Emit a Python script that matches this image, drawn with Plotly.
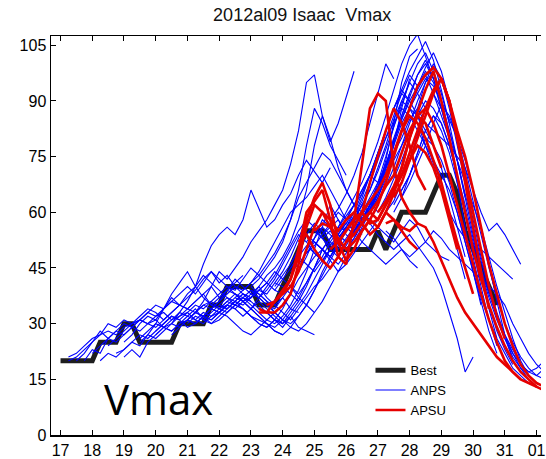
import plotly.graph_objects as go

# ---------------- data ----------------
STEP_DAYS = 0.25  # 6-hourly values

BEST_START = 17.0
BEST_VMAX = [20, 20, 20, 20, 20, 25, 25, 25, 30, 30, 25, 25, 25, 25, 25, 30, 30, 30, 30, 35,
             35, 40, 40, 40, 40, 35, 35, 35, 40, 45, 50, 55, 55, 55, 50, 50, 50, 50, 50, 50,
             55, 50, 55, 60, 60, 60, 60, 65, 70, 70, 65, 55, 50, 45, 40, 35]

ANPS_INIT = [17.25, 17.25, 17.5, 17.75, 18.0, 18.25, 18.5, 18.75, 19.0, 19.0,
             19.5, 19.5, 20.0, 20.0, 20.5, 20.5, 21.0, 21.0, 21.0, 21.25,
             21.5, 22.0, 22.0, 22.0, 22.5, 22.5, 22.5, 23.0, 23.0, 23.0,
             23.25, 23.25, 23.25, 23.75, 23.75, 23.75, 24.25, 24.25, 24.25, 24.75,
             24.75, 24.75, 25.0, 25.25, 25.25, 25.75, 25.75, 25.75, 26.25, 26.25,
             26.25, 26.5, 26.75, 27.25, 27.25, 27.25, 27.5, 27.5, 27.75, 27.75]

ANPS_VMAX = [
    [21, 22, 24, 26, 27, 28, 27, 29, 30, 31, 30, 32, 33, 31, 32, 34, 33, 35, 36, 34, 35],
    [20, 21, 23, 25, 28, 26, 25, 27, 29, 28, 30, 31, 29, 30, 32, 33, 31, 30, 32, 33, 35],
    [20, 22, 25, 27, 30, 29, 31, 30, 32, 34, 33, 31, 33, 35, 34, 36, 38, 35, 37, 39, 38],
    [20, 23, 22, 26, 28, 27, 29, 31, 30, 29, 31, 33, 35, 34, 36, 38, 40, 37, 39, 41, 43],
    [22, 24, 26, 28, 30, 29, 31, 33, 32, 34, 36, 35, 37, 39, 42, 44, 41, 43, 40, 38, 36],
    [20, 22, 21, 23, 25, 24, 27, 26, 28, 30, 29, 31, 30, 32, 31, 33, 35, 34, 32, 34, 36],
    [24, 26, 28, 30, 31, 33, 35, 34, 36, 38, 40, 38, 41, 44, 42, 40, 38, 36, 37, 39, 41],
    [22, 23, 25, 27, 26, 28, 30, 32, 31, 29, 30, 32, 31, 33, 32, 30, 28, 27, 29, 31, 33],
    [21, 23, 21, 25, 27, 29, 28, 30, 31, 33, 32, 30, 31, 33, 35, 34, 32, 30, 29, 31, 30],
    [25, 27, 30, 32, 31, 34, 37, 35, 38, 40, 43, 41, 39, 37, 35, 34, 32, 31, 30, 28, 27],
    [26, 28, 30, 29, 31, 33, 32, 34, 31, 30, 32, 34, 36, 35, 37, 39, 38, 41, 40, 38, 36],
    [25, 27, 30, 34, 38, 41, 44, 40, 37, 35, 34, 36, 35, 37, 39, 38, 36, 35, 37, 34, 33],
    [28, 30, 32, 31, 33, 35, 34, 36, 38, 40, 39, 42, 45, 43, 41, 39, 38, 40, 37, 35, 33],
    [27, 29, 28, 30, 32, 31, 33, 32, 34, 33, 35, 37, 36, 34, 33, 31, 30, 32, 29, 28, 27],
    [30, 33, 36, 40, 46, 51, 54, 56, 54, 58, 66, 61, 56, 58, 62, 65, 70, 74, 71, 68, 72],
    [27, 29, 31, 30, 32, 34, 33, 35, 34, 36, 38, 40, 37, 35, 33, 31, 34, 37, 40, 42, 45],
    [30, 32, 31, 33, 35, 34, 36, 38, 37, 39, 41, 44, 42, 40, 38, 41, 45, 48, 52, 55, 58],
    [31, 33, 35, 34, 36, 39, 42, 40, 38, 37, 35, 33, 31, 29, 28, 30, 33, 36, 40, 44, 48],
    [31, 33, 32, 34, 36, 38, 40, 39, 41, 43, 46, 49, 53, 58, 66, 78, 88, 84, 78, 74, 70],
    [33, 36, 40, 44, 42, 45, 48, 52, 55, 58, 62, 66, 73, 82, 95, 97, 86, 79, 84, 91, 98],
    [32, 34, 33, 35, 37, 36, 34, 32, 30, 28, 27, 29, 32, 35, 39, 43, 47, 51, 55, 58, 54],
    [35, 37, 36, 34, 32, 30, 29, 31, 34, 38, 42, 45, 48, 50, 47, 44, 46, 49, 52, 55, 58],
    [34, 36, 38, 37, 35, 33, 31, 30, 32, 35, 39, 44, 50, 56, 62, 58, 54, 52, 55, 58, 62],
    [35, 34, 36, 38, 37, 40, 43, 45, 48, 52, 58, 66, 78, 86, 80, 72, 66, 62, 58, 61, 63],
    [38, 36, 34, 32, 30, 29, 31, 34, 37, 41, 45, 50, 48, 52, 56, 54, 58, 62, 66, 72, 78],
    [37, 39, 41, 44, 48, 52, 56, 60, 62, 64, 67, 70, 66, 62, 58, 55, 57, 60, 65, 72, 80],
    [38, 36, 34, 37, 40, 43, 47, 51, 55, 58, 62, 60, 58, 61, 65, 70, 76, 84, 92, 100, 96],
    [40, 38, 36, 33, 31, 30, 32, 35, 39, 44, 48, 52, 50, 53, 57, 60, 64, 70, 78, 88, 96],
    [39, 37, 35, 34, 37, 40, 44, 48, 53, 58, 56, 54, 52, 55, 58, 62, 66, 72, 80, 86, 92],
    [40, 42, 45, 48, 52, 58, 64, 68, 72, 76, 74, 70, 66, 62, 65, 70, 76, 82, 88, 93, 90],
    [36, 34, 32, 30, 33, 36, 40, 45, 50, 48, 46, 49, 52, 56, 60, 66, 74, 84, 95, 102, 104],
    [37, 39, 42, 46, 50, 54, 52, 49, 47, 50, 53, 56, 59, 63, 68, 74, 80, 86, 92, 97, 94],
    [35, 33, 31, 29, 32, 35, 38, 42, 46, 50, 48, 51, 55, 52, 50, 48, 46, 48, 50, 47, 45],
    [40, 43, 46, 50, 54, 52, 50, 53, 56, 60, 64, 68, 73, 79, 86, 93, 100, 105, 108, 102, 96],
    [39, 42, 45, 48, 46, 44, 47, 50, 54, 58, 62, 60, 63, 67, 72, 78, 84, 88, 86, 82, 78],
    [41, 44, 48, 53, 58, 56, 53, 51, 54, 57, 55, 58, 62, 68, 75, 83, 90, 95, 92, 88, 84],
    [45, 48, 51, 49, 47, 50, 53, 56, 54, 57, 61, 66, 72, 79, 86, 92, 97, 100, 96, 88, 80],
    [46, 50, 54, 57, 55, 52, 50, 53, 56, 60, 58, 56, 54, 52, 55, 58, 56, 52, 50, 48, 47],
    [44, 46, 49, 52, 50, 48, 51, 55, 59, 64, 70, 76, 82, 88, 93, 98, 102, 106, 101, 93, 84],
    [50, 53, 56, 54, 52, 55, 58, 62, 60, 63, 67, 72, 78, 84, 90, 95, 98, 92, 84, 74, 64],
    [52, 55, 53, 50, 52, 56, 60, 65, 70, 76, 82, 88, 92, 90, 86, 80, 73, 66, 58, 50, 42],
    [49, 51, 54, 57, 60, 58, 62, 66, 70, 68, 72, 76, 80, 85, 88, 84, 78, 72, 64, 56, 48],
    [52, 50, 53, 56, 55, 58, 60, 57, 54, 52, 50, 52, 54, 51, 48, 45, 40, 33, 26, 17, 21],
    [53, 55, 52, 50, 53, 57, 62, 67, 73, 79, 85, 90, 94, 98, 95, 88, 80, 70, 60, 48, 38],
    [54, 56, 58, 55, 58, 62, 66, 71, 77, 83, 89, 95, 100, 103, 98, 90, 80, 68, 55, 44, 35],
    [55, 57, 60, 58, 62, 66, 71, 76, 82, 88, 94, 99, 103, 98, 90, 80, 68, 56, 44, 34, 26],
    [54, 52, 55, 59, 63, 60, 64, 69, 74, 80, 86, 90, 88, 84, 78, 70, 60, 50, 40, 31, 24],
    [56, 59, 62, 66, 70, 75, 80, 84, 88, 86, 82, 78, 74, 70, 66, 60, 52, 44, 36, 28, 22],
    [55, 58, 61, 65, 70, 76, 82, 88, 92, 96, 94, 90, 85, 80, 74, 66, 56, 46, 36, 27, 20],
    [57, 60, 64, 68, 73, 79, 85, 91, 97, 101, 96, 90, 82, 74, 64, 54, 44, 35, 28, 23, 19],
    [58, 62, 66, 72, 78, 85, 90, 88, 84, 78, 72, 66, 60, 56, 53, 51, 50, 48, 46, 44, 42],
    [58, 62, 66, 70, 74, 78, 82, 86, 84, 82, 80, 78, 75, 72, 66, 60, 55, 57, 54, 50, 46],
    [60, 64, 69, 75, 82, 88, 93, 97, 92, 86, 80, 74, 68, 62, 56, 48, 40, 33, 26, 20, 16],
    [62, 66, 72, 80, 88, 95, 100, 96, 88, 78, 68, 58, 48, 40, 33, 27, 22, 18, 16, 14, 13],
    [60, 63, 68, 74, 81, 88, 92, 88, 82, 74, 65, 56, 47, 39, 32, 26, 21, 18, 15, 13, 12],
    [55, 53, 50, 48, 50, 52, 55, 53, 50, 48, 46, 44, 42, 40, 38, 35, 30, 26, 22, 19, 17],
    [60, 64, 70, 76, 82, 86, 84, 78, 70, 62, 53, 45, 38, 32, 27, 23, 19, 17, 18, 20, 22],
    [62, 66, 70, 75, 80, 78, 74, 68, 60, 52, 44, 37, 31, 26, 22, 18, 16, 14, 13, 12, 12],
    [64, 68, 73, 78, 84, 89, 86, 80, 72, 63, 54, 45, 37, 30, 25, 21, 18, 16, 15, 14, 15],
    [66, 70, 76, 82, 86, 82, 76, 68, 60, 52, 44, 37, 31, 26, 22, 19, 17, 16, 18, 20, 21],
]

APSU_INIT = [23.25, 23.25, 23.5, 24.0, 24.5, 25.0, 25.5, 26.0, 26.5, 27.0, 27.25, 27.5]

APSU_VMAX = [
    [34, 33, 33, 35, 38, 46, 58, 64, 68, 62, 52, 47, 50, 55, 58, 56, 60, 58, 55, 52, 50],
    [33, 33, 36, 39, 42, 50, 60, 63, 66, 58, 48, 46, 58, 73, 88, 92, 90, 72, 64, 60, 57],
    [35, 36, 38, 42, 48, 56, 62, 60, 56, 52, 55, 58, 60, 68, 75, 82, 88, 84, 78, 70, 66],
    [38, 40, 44, 50, 56, 60, 58, 55, 58, 60, 57, 54, 56, 60, 65, 72, 80, 86, 84, 78, 72],
    [52, 54, 50, 47, 45, 48, 52, 56, 60, 57, 58, 62, 66, 70, 74, 78, 76, 72, 66, 58, 50],
    [55, 57, 56, 53, 50, 52, 55, 58, 62, 68, 75, 82, 86, 84, 80, 74, 68, 60, 52, 45, 38],
    [50, 52, 55, 58, 60, 63, 66, 70, 76, 82, 88, 94, 97, 99, 96, 90, 80, 68, 56, 44, 34],
    [52, 54, 57, 60, 58, 62, 66, 70, 76, 82, 88, 93, 96, 90, 80, 70, 60, 50, 40, 32, 26],
    [58, 60, 63, 67, 70, 76, 82, 86, 88, 84, 78, 70, 62, 54, 46, 38, 31, 25, 20, 17, 15],
    [60, 63, 67, 72, 80, 87, 93, 98, 90, 80, 70, 60, 50, 42, 35, 29, 24, 20, 17, 15, 13],
    [57, 58, 56, 55, 57, 56, 52, 47, 42, 37, 33, 30, 27, 24, 21, 19, 17, 15, 14, 13, 12],
    [64, 68, 74, 80, 86, 92, 96, 90, 82, 75, 66, 56, 46, 38, 30, 24, 19, 16, 14, 13, 12],
]

X_TICKS = list(range(17, 33))
X_TICK_TEXT = ["17", "18", "19", "20", "21", "22", "23", "24", "25", "26",
               "27", "28", "29", "30", "31", "01"]
Y_TICKS = [0, 15, 30, 45, 60, 75, 90, 105]


def times(start, n):
    return [start + STEP_DAYS * k for k in range(n)]


FONT = "Liberation Sans, Arial, Helvetica, sans-serif"

fig = go.Figure()

fig.add_trace(go.Scatter(
    x=times(BEST_START, len(BEST_VMAX)), y=BEST_VMAX, mode="lines",
    line=dict(color="#1e1e1e", width=5), name="Best", hoverinfo="skip"))

for i, (s, v) in enumerate(zip(ANPS_INIT, ANPS_VMAX)):
    fig.add_trace(go.Scatter(
        x=times(s, len(v)), y=v, mode="lines",
        line=dict(color="#0000ff", width=1.1), name="ANPS",
        legendgroup="ANPS", showlegend=(i == 0), hoverinfo="skip"))

for i, (s, v) in enumerate(zip(APSU_INIT, APSU_VMAX)):
    fig.add_trace(go.Scatter(
        x=times(s, len(v)), y=v, mode="lines",
        line=dict(color="#e60000", width=2.6), name="APSU",
        legendgroup="APSU", showlegend=(i == 0), hoverinfo="skip"))

fig.update_layout(
    width=546, height=459,
    margin=dict(l=51, r=0, t=36, b=24),
    paper_bgcolor="white", plot_bgcolor="white",
    font=dict(family=FONT, color="black", size=16),
    title=dict(text="2012al09 Isaac \u00a0Vmax", x=0.5126, xref="paper", xanchor="center",
               y=0.967, yref="container", yanchor="middle",
               font=dict(family=FONT, size=18, color="#111111")),
    showlegend=True,
    legend=dict(x=0.652, y=0.2, xanchor="left", yanchor="top",
                bgcolor="rgba(0,0,0,0)", borderwidth=0,
                font=dict(family=FONT, size=13, color="black"),
                traceorder="normal"),
    hovermode=False,
    annotations=[dict(text="Vmax", x=0.219, y=0.0925, xref="paper", yref="paper",
                      xanchor="center", yanchor="middle", showarrow=False,
                      font=dict(family="Open Sans, Noto Sans, sans-serif", size=42, color="black"))],
)

fig.update_xaxes(range=[16.70, 32.14], tickmode="array", tickvals=X_TICKS, ticktext=X_TICK_TEXT,
                 ticks="inside", ticklen=5, tickwidth=1, tickcolor="black",
                 showline=True, linecolor="black", linewidth=1.5, mirror="ticks",
                 showgrid=False, zeroline=False, ticklabeloverflow="allow",
                 tickfont=dict(family=FONT, size=16, color="black"))
fig.update_yaxes(range=[0, 107.5], tickmode="array", tickvals=Y_TICKS,
                 ticks="inside", ticklen=5, tickwidth=1, tickcolor="black",
                 showline=True, linecolor="black", linewidth=1.5, mirror=False,
                 showgrid=False, zeroline=False,
                 tickfont=dict(family=FONT, size=16, color="black"))

fig.write_html("out.html",
               config={"displayModeBar": False, "staticPlot": True},
               post_script="document.body.style.margin='0px';document.body.style.padding='0px';")
